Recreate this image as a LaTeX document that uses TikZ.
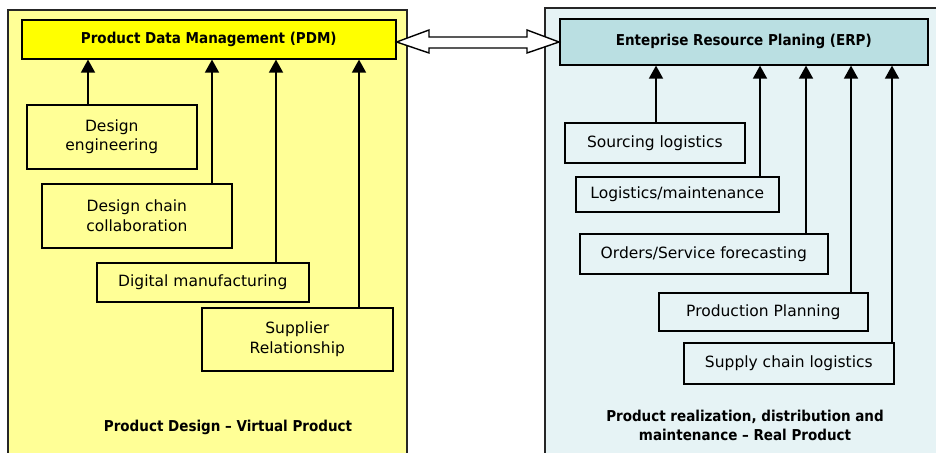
\documentclass[tikz,border=0pt]{standalone}
\usepackage{fontspec}
\setmainfont{DejaVu Sans}
\newfontfamily\condbold{DejaVu Sans Condensed Bold}
\usetikzlibrary{arrows.meta,shapes.arrows}
\definecolor{leftbg}{RGB}{255,255,150}
\definecolor{rightbg}{RGB}{230,243,245}
\definecolor{pdmfill}{RGB}{255,255,0}
\definecolor{erpfill}{RGB}{186,223,226}
\tikzset{
  outer/.style={draw=black!85, line width=1.8pt},
  box/.style={draw=black, line width=1.6pt, anchor=north west, inner sep=0pt, align=center, font=\fontsize{15.5}{19.5}\selectfont},
  head/.style={box, font=\condbold\fontsize{15}{19}\selectfont},
  arr/.style={line width=1.6pt, -{Triangle[length=13pt,width=14pt]}},
  caption/.style={font=\condbold\fontsize{15}{19}\selectfont, align=center}
}
\begin{document}
\begin{tikzpicture}[x=1pt,y=-1pt]
\clip (0,0) rectangle (936,452);
\useasboundingbox (0,0) rectangle (936,452);
\fill[white] (0,0) rectangle (936,452);
% outer panels
\draw[outer, fill=leftbg] (8,10) rectangle (407,470);
\draw[outer, fill=rightbg] (545,8) rectangle (950,470);
% left side
\node[head, fill=pdmfill, minimum width=374pt, minimum height=39pt] (pdm) at (21,19) {Product Data Management (PDM)};
\node[box, fill=leftbg, minimum width=170pt, minimum height=64pt] (de) at (26,104) {Design\\engineering};
\node[box, fill=leftbg, minimum width=190pt, minimum height=64pt] (dc) at (41,183) {Design chain\\collaboration};
\node[box, fill=leftbg, minimum width=212pt, minimum height=39pt] (dm) at (96,262) {Digital manufacturing};
\node[box, fill=leftbg, minimum width=191pt, minimum height=63pt] (sr) at (201,307) {Supplier\\Relationship};
\coordinate (xa) at (88,0);
\coordinate (xb) at (212,0);
\coordinate (xc) at (276,0);
\coordinate (xd) at (359,0);
\draw[arr] (de.north -| xa) -- (pdm.south -| xa);
\draw[arr] (dc.north -| xb) -- (pdm.south -| xb);
\draw[arr] (dm.north -| xc) -- (pdm.south -| xc);
\draw[arr] (sr.north -| xd) -- (pdm.south -| xd);
\node[caption] (lcap) at (228,427) {Product Design – Virtual Product};
% right side
\node[head, fill=erpfill, minimum width=368pt, minimum height=46pt] (erp) at (559,18) {Enteprise Resource Planing (ERP)};
\node[box, fill=rightbg, minimum width=180pt, minimum height=40pt] (sl) at (564,122) {Sourcing logistics};
\node[box, fill=rightbg, minimum width=203pt, minimum height=35pt] (lm) at (575,176) {Logistics/maintenance};
\node[box, fill=rightbg, minimum width=248pt, minimum height=40pt] (os) at (579,233) {Orders/Service forecasting};
\node[box, fill=rightbg, minimum width=209pt, minimum height=38pt] (pp) at (658,292) {Production Planning};
\node[box, fill=rightbg, minimum width=210pt, minimum height=41pt] (sc) at (683,342) {Supply chain logistics};
\coordinate (xe) at (656,0);
\coordinate (xf) at (760,0);
\coordinate (xg) at (806,0);
\coordinate (xh) at (851,0);
\coordinate (xi) at (892,0);
\draw[arr] (sl.north -| xe) -- (erp.south -| xe);
\draw[arr] (lm.north -| xf) -- (erp.south -| xf);
\draw[arr] (os.north -| xg) -- (erp.south -| xg);
\draw[arr] (pp.north -| xh) -- (erp.south -| xh);
\draw[arr] (sc.north -| xi) -- (erp.south -| xi);
\node[caption] (rcap) at (745,425.5) {Product realization, distribution and\\maintenance – Real Product};
% double arrow between PDM and ERP
\draw[line width=1.4pt, fill=white, line join=miter]
  (pdm.east |- 0,42) -- (429,30) -- (429,37) -- (527,37) -- (527,30)
  -- (erp.west |- 0,42) -- (527,53) -- (527,48) -- (429,48) -- (429,53) -- cycle;
\end{tikzpicture}
\end{document}
